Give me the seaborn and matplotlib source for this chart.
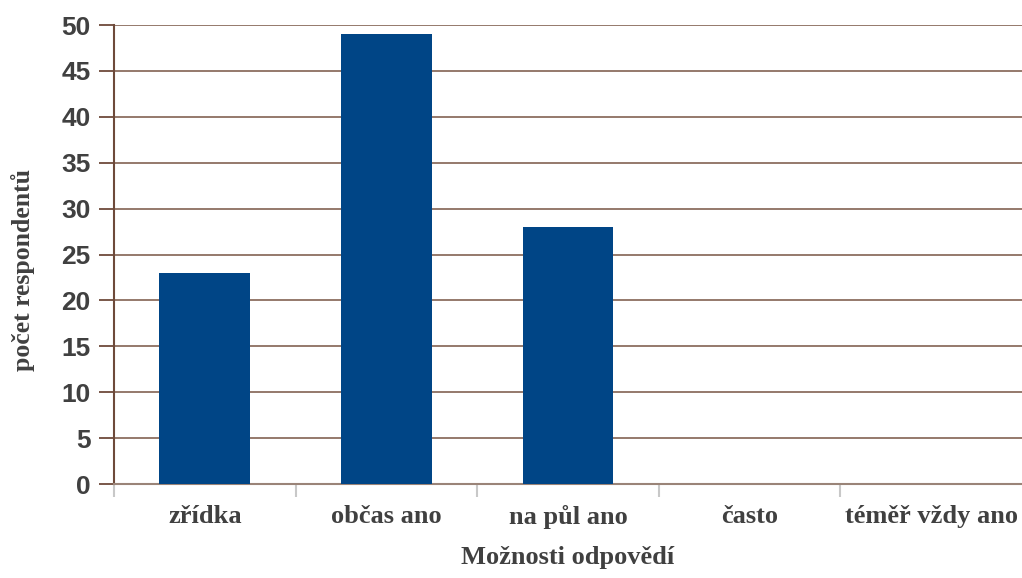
import matplotlib
matplotlib.use("Agg")
import matplotlib.pyplot as plt
import seaborn as sns
import pandas as pd

categories = ["zřídka", "občas ano", "na půl ano", "často", "téměř vždy ano"]
counts = [23, 49, 28, 0, 0]
y_ticks = [0, 5, 10, 15, 20, 25, 30, 35, 40, 45, 50]

sns.set_style("white")
plt.rcParams["font.family"] = ["Liberation Sans", "DejaVu Sans"]

df = pd.DataFrame({"odpoved": categories, "pocet": counts})

fig = plt.figure(figsize=(10.22, 5.78), dpi=100)
ax = fig.add_axes([114 / 1022, 94 / 578, 908 / 1022, 459 / 578])

sns.barplot(data=df, x="odpoved", y="pocet", color="#004586", width=0.5,
            saturation=1, linewidth=0, ax=ax, zorder=3)

ax.set_ylim(0, 50)
ax.set_xlim(-0.5, 4.5)
ax.set_yticks(y_ticks)
ax.yaxis.grid(True, color="#8c6e60", linewidth=1.3, zorder=0)
ax.set_axisbelow(True)

text_color = "#404040"
ax.tick_params(axis="y", direction="out", length=11, width=1.3, color="#6e4a3a",
               labelsize=19, labelcolor=text_color, pad=6, left=True)
for lab in ax.get_yticklabels():
    lab.set_fontweight("bold")

# category labels at centers, separator ticks between categories
ax.set_xticks(range(len(categories)))
ax.set_xticklabels(categories, family=["Liberation Serif", "DejaVu Serif"],
                   fontweight="bold", fontsize=19, color=text_color)
ax.tick_params(axis="x", which="major", length=0, pad=15)
ax.set_xticks([i - 0.5 for i in range(len(categories))], minor=True)
ax.tick_params(axis="x", which="minor", direction="out", length=9, width=1.5,
               color="#c8c8c8", bottom=True, pad=0)

for side in ("top", "right"):
    ax.spines[side].set_visible(False)
ax.spines["left"].set_color("#6e4a3a")
ax.spines["left"].set_linewidth(1.5)
ax.spines["bottom"].set_color("#9a8478")
ax.spines["bottom"].set_linewidth(1.5)

ax.set_xlabel("Možnosti odpovědí", family=["Liberation Serif", "DejaVu Serif"],
              fontweight="bold", fontsize=19, color=text_color, labelpad=12)
ax.set_ylabel("počet respondentů", family=["Liberation Serif", "DejaVu Serif"],
              fontweight="bold", fontsize=18.5, color=text_color, labelpad=19,
              y=0.466)

fig.savefig("out.png", dpi=100)
